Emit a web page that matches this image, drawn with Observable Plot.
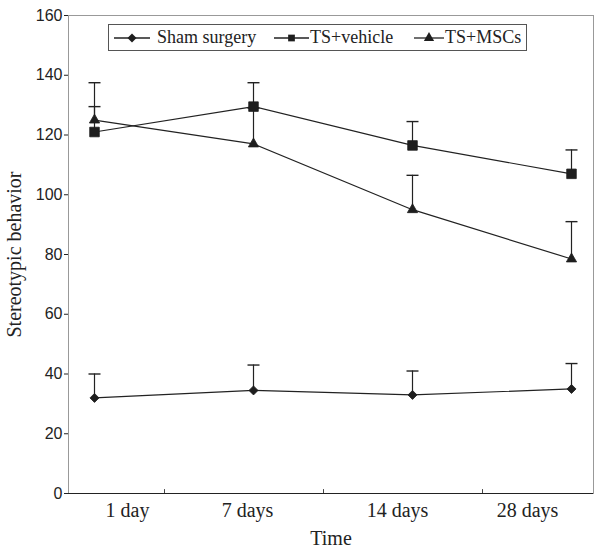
<!DOCTYPE html>
<html><head><meta charset="utf-8">
<script src="https://cdn.jsdelivr.net/npm/d3@7"></script>
<script src="https://cdn.jsdelivr.net/npm/@observablehq/plot@0.6"></script>
<style>
body{margin:0;background:#fff}
#wrap{position:relative;width:602px;height:551px;background:#fff}
#wrap svg text{font-family:"Liberation Serif",serif}
#wrap svg g[aria-label="y-axis tick label"] text{font-family:"Liberation Sans",sans-serif;font-size:16px;fill:#222}
#wrap svg g[aria-label="x-axis tick label"] text{font-size:20px;fill:#222}
#wrap svg g[aria-label="y-axis label"] text,#wrap svg g[aria-label="x-axis label"] text{font-size:20px;fill:#222}
#legend{position:absolute;left:108px;top:24px;width:417px;height:25px;border:1px solid #555;background:#fff;font:18px "Liberation Serif",serif;color:#222}
#legend .it{position:absolute;top:0;height:25px;display:flex;align-items:center;white-space:nowrap}
#legend svg{display:block}
</style></head><body><div id="wrap"></div>
<script>
const days = ["1 day", "7 days", "14 days", "28 days"];
const groups = ["Sham surgery", "TS+vehicle", "TS+MSCs"];
const shamMean = [32, 34.5, 33, 35];
const shamSD = [8, 8.5, 8, 8.5];
const vehicleMean = [121, 129.5, 116.5, 107];
const vehicleSD = [16.5, 8, 8, 8];
const mscsMean = [125, 117, 95, 78.5];
const mscsSD = [4.5, 12, 11.5, 12.5];
const yTicks = [0, 20, 40, 60, 80, 100, 120, 140, 160];

const rows = [];
[[shamMean, shamSD], [vehicleMean, vehicleSD], [mscsMean, mscsSD]].forEach(([m, s], gi) => {
  days.forEach((d, i) => rows.push({group: groups[gi], day: d, mean: m[i], upper: m[i] + s[i]}));
});

const cap = {draw(ctx, size) { const w = Math.sqrt(size / Math.PI); ctx.moveTo(-w, 0); ctx.lineTo(w, 0); }};
const markers = [
  {symbol: "square", r: 3.6, rotate: 45},
  {symbol: "square", r: 5.4, rotate: 0},
  {symbol: "triangle", r: 3.8, rotate: 0}
];
// label placement nudges (layout only), as in the original figure
const labelNudge = [33, -6, -15, -44];

const chart = Plot.plot({
  width: 602, height: 551,
  marginLeft: 68, marginRight: 9, marginTop: 15, marginBottom: 58,
  style: {background: "#fff", color: "#222"},
  x: {type: "point", domain: days, padding: 0.15, align: 0.55},
  y: {domain: [0, 160]},
  marks: [
    Plot.frame({stroke: "#999"}),
    Plot.ruleY([0], {stroke: "#222"}),
    Plot.axisY({ticks: yTicks, tickSize: 4, tickPadding: 2, line: true, stroke: "#222",
      label: "Stereotypic behavior", labelArrow: "none", labelAnchor: "center", labelOffset: 62}),
    ...days.map((d, i) => Plot.axisX([d], {tickSize: 0, tickPadding: 9, dx: labelNudge[i], label: null})),
    Plot.axisX({ticks: [], tickSize: 0, label: "Time", labelArrow: "none", labelAnchor: "center", labelOffset: 51}),
    Plot.ruleX(days.slice(0, 3), {x: d => d, y1: 0, y2: 1.3, dx: 70, stroke: "#444"}),
    Plot.ruleX(rows, {x: "day", y1: "mean", y2: "upper", stroke: "#222", strokeWidth: 1.2}),
    Plot.dot(rows, {x: "day", y: "upper", symbol: () => cap, r: 6, stroke: "#222", strokeWidth: 1.4}),
    Plot.line(rows, {x: "day", y: "mean", z: "group", stroke: "#222", strokeWidth: 1.2}),
    ...groups.map((g, gi) => Plot.dot(rows.filter(r => r.group === g), {x: "day", y: "mean", symbol: markers[gi].symbol, rotate: markers[gi].rotate, r: markers[gi].r, fill: "#1e1e1e", stroke: "#1e1e1e", strokeWidth: 0.8}))
  ]
});
const wrap = document.getElementById("wrap");
wrap.appendChild(chart);

// legend
const legend = document.createElement("div");
legend.id = "legend";
const legendSyms = [d3.symbolSquare, d3.symbolSquare, d3.symbolTriangle];
const items = [
  {left: 5, line: 36, gi: 0},
  {left: 165, line: 35, gi: 1},
  {left: 305, line: 30, gi: 2},
];
items.forEach(it => {
  const m = markers[it.gi];
  const div = document.createElement("div");
  div.className = "it";
  div.style.left = it.left + "px";
  const s = d3.create("svg").attr("width", it.line + 1).attr("height", 25);
  s.append("line").attr("x1", 0).attr("x2", it.line).attr("y1", 13).attr("y2", 13).attr("stroke", "#222").attr("stroke-width", 1.3);
  const rr = it.gi === 1 ? 3.8 : m.r;
  s.append("path").attr("transform", `translate(${it.line / 2},13) rotate(${m.rotate})`)
    .attr("d", d3.symbol(legendSyms[it.gi], Math.PI * rr * rr)()).attr("fill", "#1e1e1e");
  div.appendChild(s.node());
  const t = document.createElement("span");
  t.style.marginLeft = it.gi === 0 ? "6px" : "0px";
  t.textContent = groups[it.gi];
  div.appendChild(t);
  legend.appendChild(div);
});
wrap.appendChild(legend);
</script>
</body></html>
